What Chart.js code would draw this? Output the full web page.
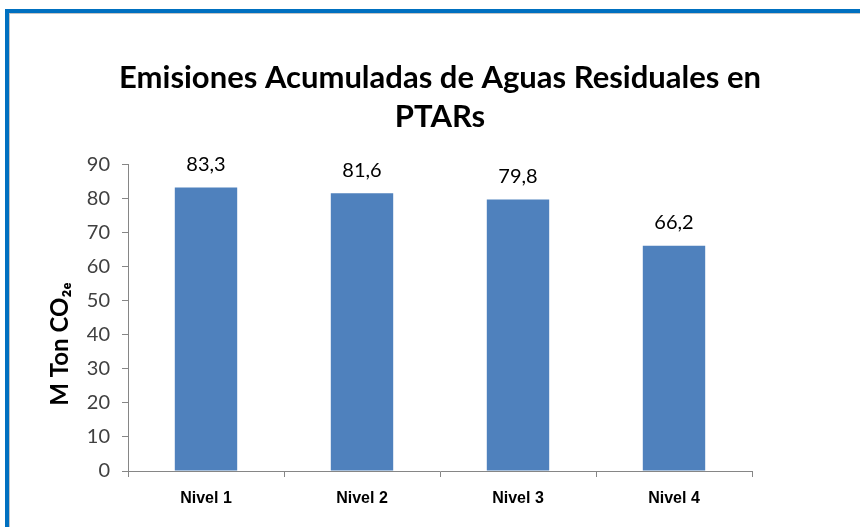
<!DOCTYPE html>
<html>
<head>
<meta charset="utf-8">
<script src="https://cdn.jsdelivr.net/npm/chart.js@4.4.1/dist/chart.umd.min.js"></script>
<style>
  html, body { margin: 0; padding: 0; background: #fff; overflow: hidden; }
  #frame {
    position: absolute; left: 5px; top: 9px; width: 900px; height: 600px;
    border-top: 4px solid #0070C0; border-left: 4px solid #0070C0;
  }
  #inner {
    position: absolute; left: 0; top: 0; right: 0; bottom: 0;
    border-top: 1px solid #c4c4c4; border-left: 1px solid #c4c4c4;
  }
  #wrap { position: absolute; left: 0; top: 0; width: 860px; height: 527px; }
</style>
</head>
<body>
<div id="frame"><div id="inner"></div></div>
<div id="wrap"><canvas id="charty"></canvas></div>
<script>
// categories and values
var niveles = ["Nivel 1", "Nivel 2", "Nivel 3", "Nivel 4"];
var emisiones = [83.3, 81.6, 79.8, 66.2];
var yTicks = [0, 10, 20, 30, 40, 50, 60, 70, 80, 90];

// labels above the bars, comma decimals
var valueLabels = {
  id: 'valueLabels',
  afterDatasetsDraw: function(chart) {
    var ctx = chart.ctx;
    var meta = chart.getDatasetMeta(0);
    ctx.save();
    ctx.font = '20px Lato';
    ctx.fillStyle = '#000';
    ctx.textAlign = 'center';
    ctx.textBaseline = 'middle';
    meta.data.forEach(function(bar, i) {
      ctx.fillText(emisiones[i].toFixed(1).replace('.', ','), bar.x, bar.y - 23);
    });
    ctx.restore();
  }
};

var charty = document.getElementById('charty').getContext('2d');
var myChart = new Chart(charty, {
  type: 'bar',
  data: {
    labels: niveles,
    datasets: [{
      label: 'M Ton CO2e',
      data: emisiones,
      backgroundColor: '#4F81BD',
      categoryPercentage: 1,
      barPercentage: 0.4
    }]
  },
  options: {
    responsive: true,
    maintainAspectRatio: false,
    animation: false,
    layout: { padding: { left: 20, right: 0, top: 0, bottom: 0 } },
    plugins: {
      legend: { display: false },
      tooltip: { enabled: false },
      title: {
        display: true,
        text: ['Emisiones Acumuladas de Aguas Residuales en', 'PTARs'],
        color: '#000',
        font: { family: 'Lato', size: 31, weight: 'bold', lineHeight: 1.27 },
        padding: { top: 58, bottom: 28 }
      }
    },
    scales: {
      x: {
        grid: { display: true, drawOnChartArea: false, offset: true, tickLength: 6, color: '#868686' },
        border: { color: '#868686' },
        ticks: {
          color: '#000',
          padding: 12,
          font: { family: 'Liberation Sans', size: 16, weight: 'bold' }
        },
        afterFit: function(s) { s.height = 56; }
      },
      y: {
        min: 0,
        max: 90,
        afterBuildTicks: function(s) { s.ticks = yTicks.map(function(v) { return { value: v }; }); },
        grid: { display: true, drawOnChartArea: false, tickLength: 6, color: '#868686' },
        border: { color: '#868686' },
        ticks: {
          color: '#404040',
          padding: 12,
          font: { family: 'Lato', size: 20 }
        },
        title: {
          display: true,
          // trailing spaces push the visible text down, as in the original
          text: 'M Ton CO₂ₑ\u00A0\u00A0\u00A0\u00A0\u00A0\u00A0\u00A0\u00A0\u00A0',
          color: '#000',
          font: { family: 'Lato', size: 24, weight: 'bold' },
          padding: { top: 26, bottom: 0 }
        },
        afterFit: function(s) { s.width = 108; }
      },
      y2: {
        position: 'right',
        display: true,
        grid: { display: false },
        border: { display: false },
        ticks: { display: false },
        afterFit: function(s) { s.width = 108; }
      }
    }
  },
  plugins: [valueLabels]
});
</script>
</body>
</html>
